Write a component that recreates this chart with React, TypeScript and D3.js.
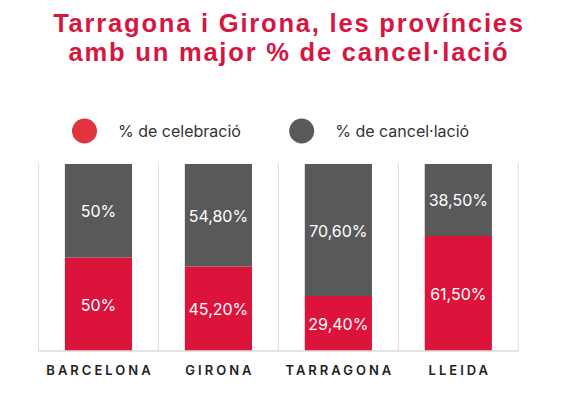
import React from 'react'
import * as d3 from 'd3'

// data
const categories = ['BARCELONA', 'GIRONA', 'TARRAGONA', 'LLEIDA']
const celebracio = [50, 45.2, 29.4, 61.5]
const cancelacio = [50, 54.8, 70.6, 38.5]
const seriesNames = ['% de celebració', '% de cancel·lació']
const titleLines = ['Tarragona i Girona, les províncies', 'amb un major % de cancel·lació']

const W = 567
const H = 393
const RED = '#dc143c'
const GRAY = '#595959'
const FONT = 'Inter, "Open Sans", sans-serif'
const TITLE_FONT = '"Liberation Sans", Arial, sans-serif'

const fmt = (v: number) =>
  Number.isInteger(v) ? `${v}%` : v.toFixed(2).replace('.', ',') + '%'

export default function App() {
  const rows = categories.map((c, i) => ({
    cat: c,
    celebracio: celebracio[i],
    cancelacio: cancelacio[i],
  }))
  const stacked = d3.stack<any>().keys(['celebracio', 'cancelacio'])(rows)

  // columns (separated by thin lines) and the bars inside them
  const col = d3.scaleBand().domain(categories).range([38.5, 518.3]).padding(0)
  const bar = d3
    .scaleBand()
    .domain(categories)
    .range([38.5, 518.3])
    .paddingInner(0.44)
    .paddingOuter(0.22)
  const y = d3.scaleLinear().domain([0, 100]).range([351, 164])
  const colors = [RED, GRAY]

  const seps = [...categories.map(c => col(c) as number), 518.3]

  return (
    <svg
      width={W}
      height={H}
      style={{ position: 'absolute', left: 0, top: 0, background: '#fff' }}
    >
      <rect width={W} height={H} fill="#fff" />

      {/* title, one text wrapped on two lines */}
      <text
        y={32}
        textAnchor="middle"
        fill="#d6163f"
        fontFamily={TITLE_FONT}
        fontWeight={700}
        fontSize={25.5}
        letterSpacing={1.8}
      >
        {titleLines.map((t, i) => (
          <tspan key={t} x={289} dy={i === 0 ? 0 : 28.5}>
            {t}
          </tspan>
        ))}
      </text>

      {/* legend */}
      {seriesNames.map((s, i) => (
        <g key={s} transform={`translate(${[84.5, 301.7][i]},131)`}>
          <circle r={12.5} fill={i === 0 ? '#e0343f' : GRAY} />
          <text
            x={33.5}
            y={5.8}
            fill="#333"
            fontFamily={FONT}
            fontSize={16}
          >
            {s}
          </text>
        </g>
      ))}

      {/* separators */}
      {seps.map((x, i) => (
        <line key={i} x1={x} x2={x} y1={163} y2={351} stroke="#e2e2e2" strokeWidth={1.2} />
      ))}

      {/* bars */}
      {stacked.map((layer, k) => (
        <g key={layer.key}>
          {layer.map((d, i) => (
            <rect
              key={i}
              x={bar(categories[i])}
              y={y(d[1])}
              width={bar.bandwidth()}
              height={y(d[0]) - y(d[1])}
              fill={colors[k]}
            />
          ))}
          {layer.map((d, i) => (
            <text
              key={'t' + i}
              x={(bar(categories[i]) as number) + bar.bandwidth() / 2}
              y={(y(d[0]) + y(d[1])) / 2 + 6.5}
              textAnchor="middle"
              fill="#fff"
              fontFamily={FONT}
              fontSize={16}
            >
              {fmt(d[1] - d[0])}
            </text>
          ))}
        </g>
      ))}

      {/* baseline */}
      <line x1={38.5} x2={518.3} y1={351} y2={351} stroke="#dcdcdc" strokeWidth={1.5} />

      {/* category labels */}
      {categories.map(c => (
        <text
          key={c}
          x={(col(c) as number) + col.bandwidth() / 2 + 1.5}
          y={374.5}
          textAnchor="middle"
          fill="#222"
          fontFamily={FONT}
          fontWeight={600}
          fontSize={13}
          letterSpacing={3}
        >
          {c}
        </text>
      ))}
    </svg>
  )
}
